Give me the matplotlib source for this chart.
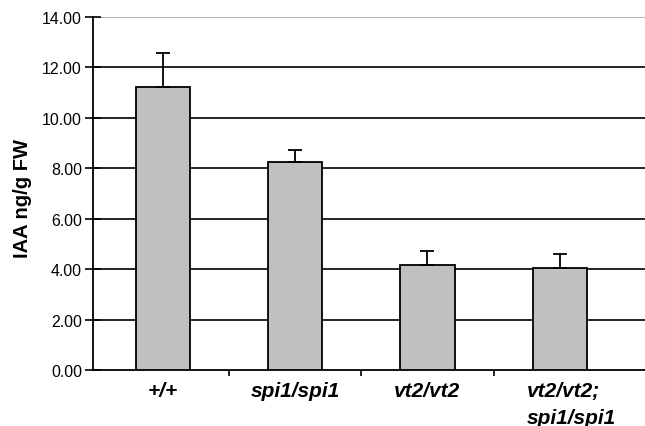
"""IAA content bar chart"""

import numpy as np
import matplotlib.pyplot as plt
from matplotlib.transforms import blended_transform_factory

plt.rcParams['font.family'] = ['Liberation Sans', 'DejaVu Sans']

genotypes = ["+/+", "spi1/spi1", "vt2/vt2", "vt2/vt2;\nspi1/spi1"]
iaa_means = [11.22, 8.24, 4.18, 4.03]
iaa_errors = [1.35, 0.50, 0.54, 0.58]
y_ticks = [0, 2, 4, 6, 8, 10, 12, 14]

W, H = 645, 427
fig = plt.figure(figsize=(W / 100, H / 100), dpi=100)
ax = fig.add_axes([93 / W, 1 - 371 / H, (W - 93) / W, (371 - 18) / H])

x = np.arange(len(genotypes))
ax.bar(x, iaa_means, width=0.41, color="#c0c0c0", edgecolor="black",
       linewidth=1.3, zorder=3)
ax.errorbar(x, iaa_means, yerr=[np.zeros(len(x)), iaa_errors], fmt="none",
            ecolor="black", elinewidth=1.3, capsize=4.7, capthick=1.3, zorder=4)

ax.set_ylim(0, 14)
ax.set_xlim(-0.53, 3.646)
ax.set_yticks(y_ticks)
ax.set_yticklabels([f"{v:.2f}" for v in y_ticks], fontsize=11.4)
for v in y_ticks[1:-1]:
    ax.axhline(v, color="black", linewidth=1.2, zorder=1)
ax.axhline(14, color="#aaaaaa", linewidth=1.2, zorder=1)

# category boundary ticks, labels drawn as text below
ax.set_xticks(x[:-1] + 0.5)
ax.set_xticklabels([])
ax.tick_params(axis="x", direction="out", length=4, width=1.2)
ax.tick_params(axis="y", direction="inout", length=12, width=1.2, pad=2)

trans = blended_transform_factory(ax.transData, fig.transFigure)
label_font = dict(fontsize=15, fontweight="bold", fontstyle="italic")
for xi, name in zip(x, genotypes):
    lines = name.split("\n")
    if len(lines) == 1:
        ax.text(xi, 1 - 397 / H, name, transform=trans, ha="center",
                va="baseline", **label_font)
    else:
        for k, line in enumerate(lines):
            ax.text(xi - 0.247, 1 - (397 + 27 * k) / H, line, transform=trans,
                    ha="left", va="baseline", **label_font)

fig.text(23 / W, 1 - 198 / H, "IAA ng/g FW", rotation=90, ha="center",
         va="center", fontsize=14.5, fontweight="bold")

for side in ["top", "right"]:
    ax.spines[side].set_visible(False)
ax.spines["left"].set_linewidth(1.3)
ax.spines["bottom"].set_linewidth(1.3)

plt.savefig("out.png", dpi=100)
